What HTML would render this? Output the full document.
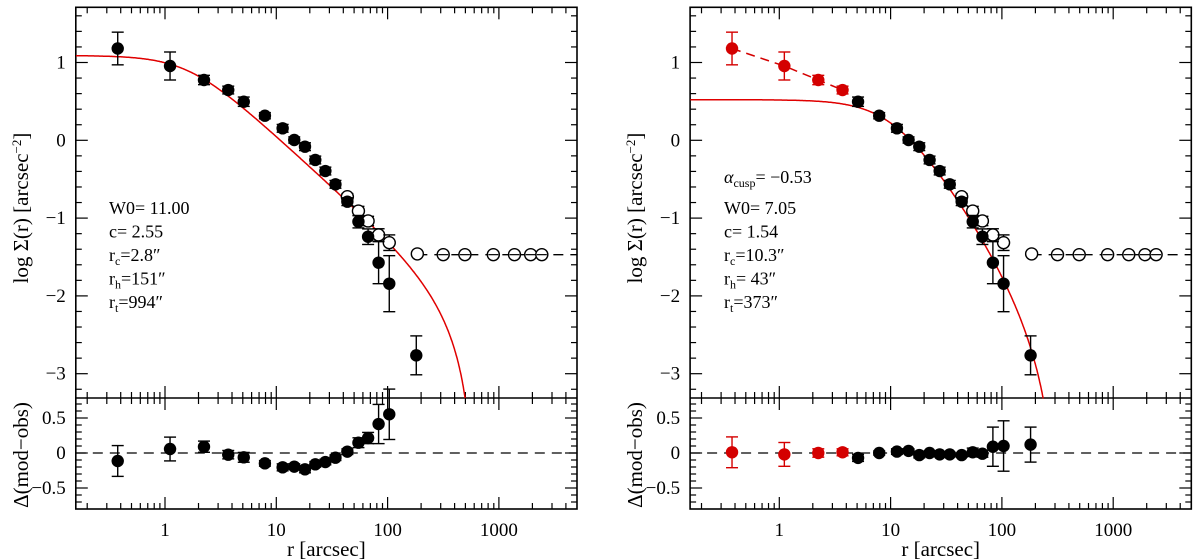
<!DOCTYPE html>
<html><head><meta charset="utf-8">
<style>
html,body{margin:0;padding:0;background:#fff;}
svg{display:block;font-family:"Liberation Serif","DejaVu Serif",serif;}
text{fill:#000;}
</style></head>
<body>
<svg id="chart" width="1200" height="560" viewBox="0 0 1200 560" xmlns="http://www.w3.org/2000/svg"></svg>
<script>
// ---- data ----
const radii = [0.376,1.11,2.24,3.7,5.1,7.9,11.4,14.5,18.1,22.4,27.6,34,43.5,54.7,66.8,83,103.5,181];
const logSigma = [1.18,0.955,0.775,0.646,0.496,0.316,0.154,0.004,-0.082,-0.253,-0.395,-0.566,-0.789,-1.046,-1.239,-1.573,-1.843,-2.764];
const logSigmaErr = [0.21,0.18,0.06,0.05,0.06,0.04,0.05,0.04,0.05,0.05,0.05,0.05,0.05,0.08,0.1,0.27,0.36,0.25];
const openRadii = [43.5,54.7,66.8,83,103.5];
const openLogSigma = [-0.725,-0.909,-1.037,-1.217,-1.316];
const openErr = [0.04,0.06,0.06,0.08,0.1];
const bgRadii = [185,316,495,891,1380,1930,2430];
const bgLogSigma = [-1.46,-1.47,-1.47,-1.47,-1.47,-1.47,-1.47];
const residLeft = [-0.114,0.057,0.09,-0.024,-0.062,-0.148,-0.205,-0.195,-0.233,-0.162,-0.129,-0.067,0.019,0.147,0.214,0.414,0.553];
const residLeftErr = [0.22,0.17,0.08,0.06,0.07,0.04,0.05,0.04,0.05,0.04,0.04,0.04,0.04,0.07,0.08,0.28,0.36];
const residRight = [0.01,-0.02,0,0.01,-0.07,0,0.02,0.03,-0.03,0,-0.02,-0.02,-0.03,0.01,-0.01,0.09,0.1,0.12];
const residRightErr = [0.22,0.17,0.06,0.05,0.05,0.03,0.04,0.03,0.04,0.03,0.03,0.03,0.03,0.06,0.05,0.28,0.36,0.25];
const redCount = 4;
const xTickLabels = ["1","10","100","1000"];
const yTickLabels = ["1","0","\u22121","\u22122","\u22123"];
const rTickLabels = ["0.5","0","\u22120.5"];
const leftParams = ["W0=  11.00","c=  2.55","r|c|=2.8\u2033","r|h|=151\u2033","r|t|=994\u2033"];
const rightParams = ["W0=  7.05","c=  1.54","r|c|=10.3\u2033","r|h|=  43\u2033","r|t|=373\u2033"];
const cuspLabel = "\u22120.53";

const NS="http://www.w3.org/2000/svg";
const svg=document.getElementById('chart');
function el(tag,attrs,parent){const e=document.createElementNS(NS,tag);for(const k in attrs)e.setAttribute(k,attrs[k]);(parent||svg).appendChild(e);return e;}

const TOP=7.3, MID=398, BOT=509;
function makePanel(ox){
  const L=75.8+ox, R=577+ox;
  const X=r=>165+ox+111.3*Math.log10(r);
  const Y=v=>140.3-77.8*v;
  const YR=v=>453-70*v;
  return {L,R,X,Y,YR,ox};
}
function drawFrame(p,g){
  const f=el('rect',{x:p.L,y:TOP,width:p.R-p.L,height:BOT-TOP,fill:'none',stroke:'#000','stroke-width':1.6},g);
  
  
  const mid=el('line',{x1:p.L,x2:p.R,y1:MID,y2:MID,stroke:'#000','stroke-width':1.6},g);
  
  
  for(let d=-1;d<=3;d++){for(let m=1;m<=9;m++){const r=m*Math.pow(10,d);const x=p.X(r);if(x<p.L+1||x>p.R-1)continue;const len=m===1?12:6;
    [[TOP,1],[MID,-1],[MID,1],[BOT,-1]].forEach(([y0,s])=>{el('line',{x1:x,x2:x,y1:y0,y2:y0+s*len,stroke:'#000','stroke-width':1.2},g);});}}
  for(let i=-16;i<=8;i++){const v=i*0.2;const y=p.Y(v);if(y<TOP+1||y>MID-1)continue;const major=Math.abs(v-Math.round(v))<1e-6;const len=major?12:6;
    el('line',{x1:p.L,x2:p.L+len,y1:y,y2:y,stroke:'#000','stroke-width':1.2},g);el('line',{x1:p.R,x2:p.R-len,y1:y,y2:y,stroke:'#000','stroke-width':1.2},g);}
  for(let i=-8;i<=8;i++){const v=i*0.1;const y=p.YR(v);if(y<MID+1||y>BOT-1)continue;const major=(i%5===0);const len=major?12:6;
    el('line',{x1:p.L,x2:p.L+len,y1:y,y2:y,stroke:'#000','stroke-width':1.2},g);el('line',{x1:p.R,x2:p.R-len,y1:y,y2:y,stroke:'#000','stroke-width':1.2},g);}
  xTickLabels.forEach((t,i)=>{const tx=el('text',{x:p.X(Math.pow(10,i)),y:536,'font-size':19,'text-anchor':'middle'},g);tx.textContent=t;
    
    });
  yTickLabels.forEach((t,i)=>{const tx=el('text',{x:p.L-10,y:p.Y(1-i)+6,'font-size':19,'text-anchor':'end'},g);tx.textContent=t;
    
    });
  rTickLabels.forEach((t,i)=>{const tx=el('text',{x:p.L-10,y:p.YR(0.5-0.5*i)+6,'font-size':19,'text-anchor':'end'},g);tx.textContent=t;
    
    });
  const xt=el('text',{x:(p.L+p.R)/2,y:556,'font-size':21,'text-anchor':'middle'},g);xt.textContent='r [arcsec]';
  
  
  const yt=el('text',{x:0,y:0,'font-size':21,'text-anchor':'middle',transform:`translate(${p.L-48},${208}) rotate(-90)`},g);
  yt.innerHTML='log &#931;(r) [arcsec<tspan dy="-7" font-size="13">&#8722;2</tspan><tspan dy="7">]</tspan>';
  
  
  const rt=el('text',{x:0,y:0,'font-size':21,'text-anchor':'middle',transform:`translate(${p.L-48},${455}) rotate(-90)`},g);
  rt.textContent='\u0394(mod\u2212obs)';
  
  
  const z=el('line',{x1:p.L,x2:p.R,y1:p.YR(0),y2:p.YR(0),stroke:'#000','stroke-width':1.3,'stroke-dasharray':'10,7'},g);
  
  
}
function errbar(g,x,y1,y2,col){el('line',{x1:x,x2:x,y1:y1,y2:y2,stroke:col,'stroke-width':1.4},g);
  el('line',{x1:x-6,x2:x+6,y1:y1,y2:y1,stroke:col,'stroke-width':1.4},g);el('line',{x1:x-6,x2:x+6,y1:y2,y2:y2,stroke:col,'stroke-width':1.4},g);}
function drawParams(g,x,y0,lines){lines.forEach((s,i)=>{const parts=s.split('|');const t=el('text',{x:x,y:y0+i*23.5,'font-size':18},g);
  if(parts.length===3){t.innerHTML=parts[0]+'<tspan dy="4" font-size="12">'+parts[1]+'</tspan><tspan dy="-4">'+parts[2]+'</tspan>';}else t.textContent=s;
  
  });}
function drawOpen(p,g){
  const dl=el('line',{x1:p.X(bgRadii[0]),x2:p.R,y1:p.Y(bgLogSigma[1]),y2:p.Y(bgLogSigma[1]),stroke:'#000','stroke-width':1.3,'stroke-dasharray':'10,7'},g);
  
  
  openRadii.forEach((r,i)=>{const x=p.X(r);errbar(g,x,p.Y(openLogSigma[i]+openErr[i]),p.Y(openLogSigma[i]-openErr[i]),'#000');
    const c=el('circle',{cx:x,cy:p.Y(openLogSigma[i]),r:6,fill:'#fff',stroke:'#000','stroke-width':1.4},g);
    
    });
  bgRadii.forEach((r,i)=>{const x=p.X(r),y=p.Y(bgLogSigma[i]);
    const c=el('circle',{cx:x,cy:y,r:6,fill:'#fff',stroke:'#000','stroke-width':1.4},g);
    
    
    if(i>0)el('line',{x1:x-5,x2:x+5,y1:y,y2:y,stroke:'#000','stroke-width':1.2},g);});
}
function drawMain(p,g,redN){
  radii.forEach((r,i)=>{const col=i<redN?'#d40000':'#000';const x=p.X(r);
    errbar(g,x,p.Y(logSigma[i]+logSigmaErr[i]),p.Y(logSigma[i]-logSigmaErr[i]),col);
    const c=el('circle',{cx:x,cy:p.Y(logSigma[i]),r:6.2,fill:col},g);
    
    });
}
function drawResid(p,g,vals,errs,redN){
  vals.forEach((v,i)=>{const col=i<redN?'#d40000':'#000';const x=p.X(radii[i]);
    errbar(g,x,p.YR(v+errs[i]),p.YR(v-errs[i]),col);
    const c=el('circle',{cx:x,cy:p.YR(v),r:6.2,fill:col},g);
    
    });
}
function drawCurve(p,g,fn,name){
  let d='';let first=true;
  for(let lx=-0.85;lx<=3.7;lx+=0.005){const r=Math.pow(10,lx);const v=fn(r);if(!isFinite(v))break;let y=p.Y(v);if(y>MID){y=MID;const x=p.X(r);d+=(first?'M':'L')+x.toFixed(1)+','+y.toFixed(1);break;}
    const x=p.X(r);if(x<p.L)continue;d+=(first?'M':'L')+x.toFixed(1)+','+y.toFixed(1);first=false;}
  const path=el('path',{d:d,fill:'none',stroke:'#e00000','stroke-width':1.5},g);
  
  
}

// left panel
const gl=el('g',{});


const pl=makePanel(0);
drawFrame(pl,gl);
drawCurve(pl,gl,r=>{const t=1-Math.pow(r/608,1.5);if(t<=0)return -Infinity;return 1.09-0.65*Math.log10(1+(r/1.6)*(r/1.6))+2*Math.log10(t);},'model-curve');
drawOpen(pl,gl);
drawMain(pl,gl,0);
drawResid(pl,gl,residLeft,residLeftErr,0);
drawParams(gl,109,214,leftParams);

// right panel
const gr=el('g',{});


const pr=makePanel(614.3);
drawFrame(pr,gr);
drawCurve(pr,gr,r=>{const rc=10.3,rt=320;const k=1/Math.sqrt(1+(rt/rc)*(rt/rc));const a=1/Math.sqrt(1+(r/rc)*(r/rc))-k;if(a<=0)return -Infinity;return 0.542+Math.log10(a*a)-Math.log10((1-k)*(1-k))-0.02;},'king-model-curve');
let cd='';for(let i=0;i<redCount;i++){cd+=(i?'L':'M')+pr.X(radii[i]).toFixed(1)+','+pr.Y(logSigma[i]).toFixed(1);}
const cl=el('path',{d:cd,fill:'none',stroke:'#d40000','stroke-width':1.5,'stroke-dasharray':'9,6'},gr);


drawOpen(pr,gr);
drawMain(pr,gr,redCount);
drawResid(pr,gr,residRight,residRightErr,redCount);
const al=el('text',{x:724,y:183,'font-size':18},gr);
al.innerHTML='<tspan font-style="italic">&#945;</tspan><tspan dy="4" font-size="12">cusp</tspan><tspan dy="-4">=  '+cuspLabel+'</tspan>';


drawParams(gr,724,214,rightParams);
</script>
</body></html>
